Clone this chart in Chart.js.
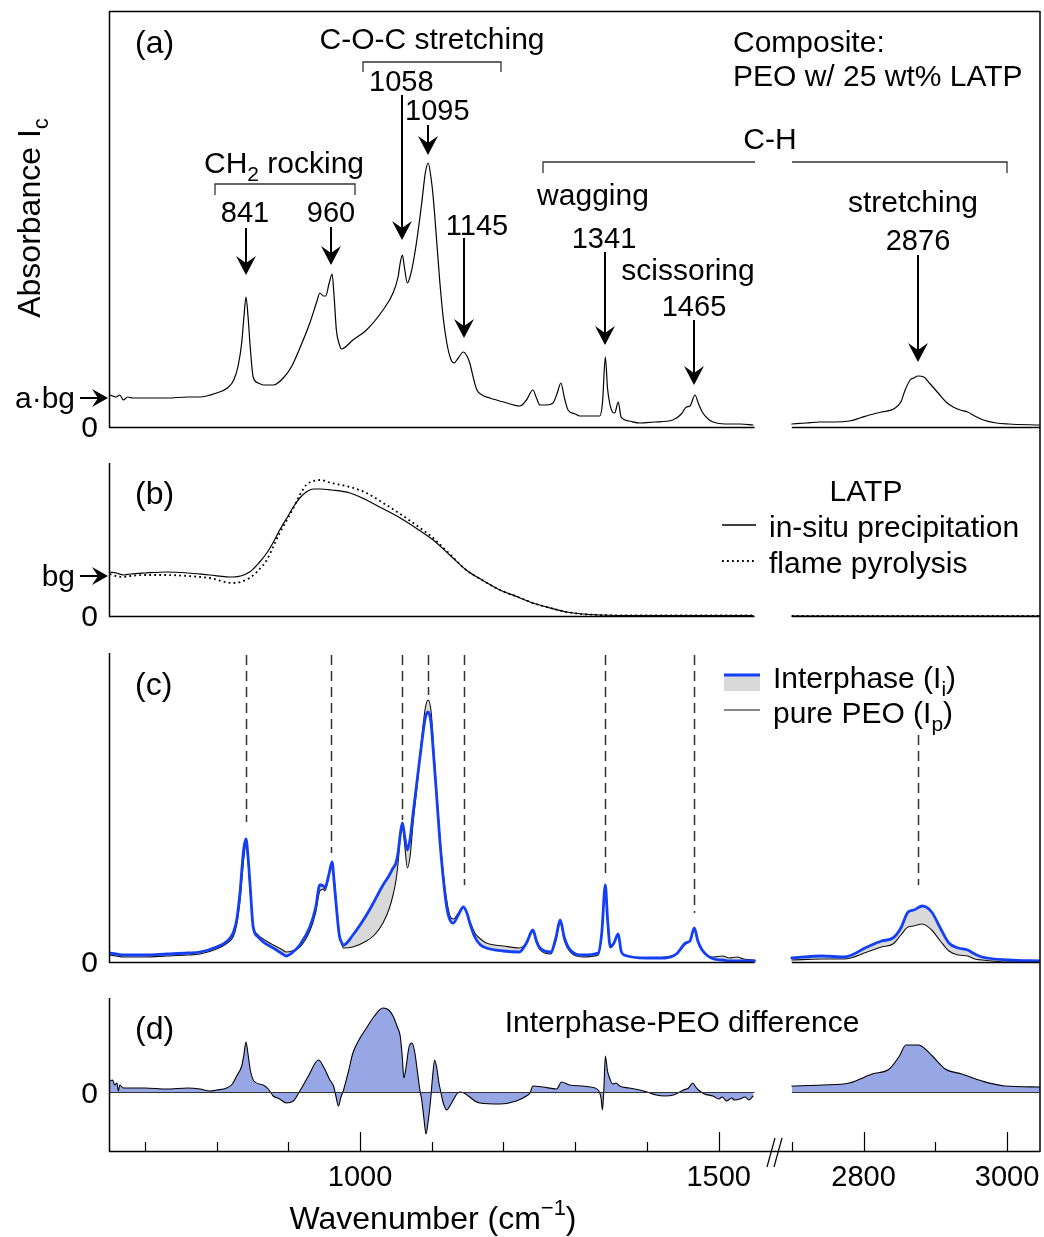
<!DOCTYPE html>
<html>
<head>
<meta charset="utf-8">
<script src="https://cdn.jsdelivr.net/npm/chart.js@4/dist/chart.umd.min.js"></script>
<style>
  body { margin: 0; background: #fff; width: 1044px; height: 1237px; overflow: hidden; position: relative; }
  canvas { position: absolute; left: 0; }
</style>
</head>
<body>
<canvas id="pa" width="1044" height="440" style="top:0"></canvas>
<canvas id="pb" width="1044" height="190" style="top:440px"></canvas>
<canvas id="pc" width="1044" height="345" style="top:630px"></canvas>
<canvas id="pd" width="1044" height="262" style="top:975px"></canvas>
<script>
// broken axis: 650-1550 then 2700-3050, the second part shifted left
const GAP = 1098;
const xv = w => (w > 2000 ? w - GAP : w);
const FONT = '"Liberation Sans", Arial, Helvetica, sans-serif';

// x axis ticks
const tickWaves = [700, 800, 900, 1000, 1100, 1200, 1300, 1400, 1500, 2700, 2800, 2900, 3000];
const tickLabels = ['', '', '', '1000', '', '', '', '', '1500', '', '2800', '', '3000'];
const peakWaves = [841, 960, 1058, 1095, 1145, 1341, 1465, 2876];

// (a) composite PEO w/ 25 wt% LATP  (null = axis break)
const aWave = [651, 660, 665, 670, 676, 683, 700, 731, 760, 777, 800, 815, 824, 830, 835, 838, 841, 844, 847, 851, 858, 865, 879, 893, 905, 915, 930, 940, 944, 949, 952, 957, 961, 964, 967, 971, 974, 990, 1009, 1032, 1046, 1053, 1056, 1059, 1062, 1066, 1070, 1074, 1080, 1086, 1091, 1095, 1099, 1102, 1106, 1111, 1116, 1121, 1126, 1131, 1137, 1144, 1149, 1153, 1158, 1163, 1170, 1181, 1200, 1223, 1232, 1241, 1246, 1251, 1260, 1269, 1275, 1280, 1285, 1290, 1300, 1306, 1320, 1334, 1338, 1342, 1345, 1348, 1352, 1355, 1360, 1364, 1375, 1390, 1410, 1436, 1448, 1455, 1460, 1467, 1472, 1478, 1487, 1497, 1515, 1530, 1548,
  null, 2700, 2720, 2739, 2760, 2780, 2795, 2808, 2825, 2842, 2852, 2858, 2865, 2870, 2876, 2884, 2893, 2904, 2915, 2925, 2935, 2945, 2955, 2967, 2985, 3002, 3046];
const aAbs = [33, 31, 33, 28, 31, 30, 30, 30, 31, 31, 35, 40, 48, 62, 85, 110, 131, 110, 80, 51, 45, 43, 43, 50, 62, 78, 105, 127, 135, 132, 132, 145, 154, 130, 98, 84, 79, 88, 98, 118, 135, 151, 165, 173, 160, 145, 152, 165, 192, 225, 255, 265, 250, 231, 195, 148, 110, 85, 70, 65, 70, 76, 72, 65, 50, 38, 33, 30, 26, 22, 28, 38, 30, 23, 23, 25, 35, 45, 30, 18, 14, 12, 12, 12, 25, 71, 40, 25, 16, 15, 26, 11, 7, 5, 6, 8, 14, 21, 22, 33, 24, 15, 8, 5, 4, 4, 3,
  null, 4, 5, 6, 6, 7, 10, 13, 16, 19, 26, 38, 48, 50, 52, 51, 44, 35, 26, 21, 18, 16, 12, 8, 5, 4, 3];

// (b) LATP background
const bWave = [651, 660, 670, 680, 700, 730, 760, 790, 823, 846, 860, 870, 880, 888, 898, 907, 916, 925, 935, 944, 960, 986, 1009, 1030, 1056, 1080, 1102, 1125, 1148, 1170, 1195, 1220, 1241, 1265, 1288, 1310, 1334, 1400, 1470, 1548,
  null, 2700, 2800, 2900, 3000, 3046];
const bInSitu = [45, 44, 42, 43, 44, 45, 44, 42, 40, 45, 55, 64, 76, 87, 99, 110, 119, 125, 128, 128, 127, 124, 117, 109, 99, 88, 77, 62, 47, 37, 27, 20, 14, 9, 5, 3, 2, 1.5, 1.5, 1.5,
  null, 1, 1, 1, 1, 1];
const bFlame = [43, 41, 40, 41, 42, 42, 41, 39, 34, 39, 48, 57, 72, 84, 97, 109, 122, 132, 136, 137, 134, 130, 124, 115, 103, 91, 79, 63, 47, 37, 27, 20, 14, 9, 5, 3, 2, 1.5, 1.5, 1.5,
  null, 1, 1, 1, 1, 1];

// (c) interphase vs pure PEO
const cWave = [651, 660, 670, 683, 700, 731, 760, 777, 800, 815, 823, 828, 833, 836, 838, 841, 844, 847, 851, 858, 865, 879, 890, 897, 905, 916, 930, 938, 944, 949, 951, 957, 961, 964, 967, 971, 974, 977, 990, 1009, 1020, 1032, 1041, 1046, 1050, 1053, 1056, 1059, 1062, 1066, 1070, 1074, 1080, 1086, 1091, 1095, 1099, 1102, 1106, 1111, 1116, 1121, 1126, 1130, 1137, 1144, 1149, 1153, 1160, 1168, 1176, 1200, 1222, 1232, 1241, 1246, 1251, 1266, 1273, 1279, 1285, 1293, 1310, 1332, 1337, 1342, 1345, 1349, 1354, 1360, 1364, 1368, 1399, 1425, 1441, 1454, 1460, 1466, 1471, 1477, 1493, 1505, 1515, 1525, 1535, 1550,
  null, 2700, 2742, 2773, 2805, 2825, 2841, 2852, 2862, 2870, 2882, 2895, 2907, 2919, 2932, 2945, 2955, 2965, 3002, 3048];
const cInter = [10, 9, 8, 8, 8, 9, 10, 11, 16, 22, 30, 43, 73, 100, 115, 124, 105, 75, 36, 26, 21, 15, 10, 7, 10, 18, 36, 55, 78, 77, 75, 90, 101, 80, 56, 28, 21, 18, 28, 48, 62, 78, 88, 95, 100, 110, 128, 140, 128, 113, 125, 150, 185, 220, 245, 251, 240, 213, 175, 125, 85, 55, 42, 40, 48, 56, 50, 40, 26, 18, 15, 12, 11, 20, 33, 22, 15, 11, 25, 43, 25, 13, 8, 10, 30, 78, 45, 16, 20, 29, 12, 8, 5, 5, 9, 20, 22, 35, 22, 13, 4, 3, 2, 2, 2, 2,
  null, 5, 7, 6, 16, 22, 25, 35, 51, 53, 57, 51, 35, 20, 15, 13, 9, 6, 3, 2];
const cPEO = [8, 7, 6, 6, 6, 7, 8, 9, 14, 20, 26, 38, 65, 90, 105, 118, 100, 70, 38, 28, 24, 18, 14, 11, 12, 16, 32, 50, 72, 74, 72, 88, 100, 85, 60, 30, 20, 15, 16, 22, 28, 40, 55, 68, 82, 100, 125, 137, 120, 95, 108, 140, 180, 225, 255, 263, 252, 222, 180, 130, 90, 62, 46, 44, 50, 56, 50, 42, 30, 24, 20, 17, 15, 20, 31, 20, 13, 9, 22, 40, 22, 11, 6, 8, 28, 76, 42, 18, 20, 27, 12, 8, 5, 6, 9, 19, 22, 33, 21, 12, 6, 7, 5, 6, 4, 3,
  null, 3, 4, 4, 11, 16, 19, 28, 36, 37, 39, 33, 22, 12, 8, 7, 4, 3, 1, 1];

// (d) interphase - PEO difference
const dWave = [651, 655, 658, 661, 663, 665, 670, 684, 700, 730, 760, 777, 791, 800, 814, 822, 828, 835, 838, 841, 844, 847, 852, 865, 872, 879, 888, 897, 907, 916, 928, 942, 950, 958, 963, 966, 970, 973, 977, 984, 990, 1000, 1009, 1020, 1032, 1040, 1046, 1052, 1056, 1059, 1061, 1064, 1068, 1072, 1076, 1079, 1083, 1086, 1089, 1092, 1095, 1098, 1101, 1104, 1107, 1110, 1112, 1116, 1121, 1126, 1130, 1135, 1139, 1145, 1151, 1160, 1167, 1195, 1218, 1232, 1237, 1241, 1255, 1274, 1281, 1292, 1310, 1321, 1332, 1336, 1338, 1340, 1342, 1345, 1348, 1352, 1357, 1362, 1375, 1390, 1400, 1413, 1425, 1437, 1451, 1458, 1464, 1468, 1472, 1480, 1492, 1500, 1505, 1511, 1518, 1522, 1530, 1537, 1542, 1548,
  null, 2700, 2743, 2780, 2812, 2836, 2850, 2859, 2877, 2886, 2896, 2914, 2937, 2965, 2997, 3046];
const dDiff = [12, 13, 8, 10, 2, 8, 5, 5, 5, 4, 5, 4, 2, 3, 5, 9, 17, 27, 38, 51, 38, 23, 12, 8, 4, -3, -6, -10, -8, 2, 17, 33, 25, 13, 7, -2, -13, -5, 3, 22, 40, 55, 65, 77, 85, 83, 77, 66, 57, 35, 15, 25, 45, 50, 42, 27, 5, -7, -25, -41, -28, -10, 15, 33, 25, 10, 3, -10, -17, -12, -7, -1, 1, 0, -3, -8, -10, -11, -8, -3, 0, 7, 6, 4, 11, 8, 7, 6, 3, -5, -17, 5, 37, 22, 15, 9, 10, 7, 5, 3, 1, -2, -3, -2, 3, 5, 10, 6, 3, -1, -3, -6, -4, -8, -5, -7, -6, -4, -7, -3,
  null, 7, 8, 10, 19, 24, 37, 48, 48, 44, 37, 24, 19, 12, 7, 6];

const pts = (ws, ys) => ws.map((w, i) => (w === null ? { x: 1575, y: null } : { x: xv(w), y: ys[i] }));

// ---------- drawing helpers ----------
function seg(ctx, x1, y1, x2, y2) {
  ctx.beginPath(); ctx.moveTo(x1, y1); ctx.lineTo(x2, y2); ctx.stroke();
}
// parts: [text, mode]  mode 1 = subscript, -1 = superscript
function rich(ctx, parts, x, y, align, size) {
  const fs = parts.map(p => (p[1] ? Math.round(size * 0.7) : size));
  let w = 0;
  parts.forEach((p, i) => { ctx.font = fs[i] + 'px ' + FONT; w += ctx.measureText(p[0]).width; });
  let cx = align === 'center' ? x - w / 2 : align === 'right' ? x - w : x;
  ctx.textAlign = 'left'; ctx.textBaseline = 'alphabetic'; ctx.fillStyle = '#000';
  const base = y + size * 0.36;
  parts.forEach((p, i) => {
    ctx.font = fs[i] + 'px ' + FONT;
    const dy = p[1] === 1 ? size * 0.26 : p[1] === -1 ? -size * 0.42 : 0;
    ctx.fillText(p[0], cx, base + dy);
    cx += ctx.measureText(p[0]).width;
  });
}
function txt(ctx, s, x, y, align, size) { rich(ctx, [[s]], x, y, align, size || 30); }
function arrowDown(ctx, x, top, tip) {
  ctx.lineWidth = 2; ctx.strokeStyle = '#000';
  seg(ctx, x, top, x, tip - 8);
  ctx.beginPath();
  ctx.moveTo(x, tip); ctx.lineTo(x - 10, tip - 19); ctx.lineTo(x, tip - 12); ctx.lineTo(x + 10, tip - 19);
  ctx.closePath(); ctx.fillStyle = '#000'; ctx.fill();
}
function arrowRight(ctx, x1, tip, y) {
  ctx.lineWidth = 2; ctx.strokeStyle = '#000';
  seg(ctx, x1, y, tip - 6, y);
  ctx.beginPath();
  ctx.moveTo(tip, y); ctx.lineTo(tip - 16, y - 9); ctx.lineTo(tip - 10, y); ctx.lineTo(tip - 16, y + 9);
  ctx.closePath(); ctx.fillStyle = '#000'; ctx.fill();
}
// spines and the broken zero line of one panel
function frame(chart, o) {
  const { ctx, chartArea: a, scales: { x, y } } = chart;
  ctx.save();
  ctx.strokeStyle = '#000'; ctx.lineWidth = 1.5;
  seg(ctx, a.left + 0.5, a.top, a.left + 0.5, a.bottom);
  if (o.top) seg(ctx, a.left, a.top + 0.5, a.right, a.top + 0.5);
  seg(ctx, a.right, o.rTop, a.right, o.rBot);
  const y0 = Math.round(y.getPixelForValue(0)) - 0.5;
  if (o.thinZero) { ctx.lineWidth = 1; ctx.strokeStyle = '#333'; }
  seg(ctx, a.left, y0, x.getPixelForValue(1550), y0);
  seg(ctx, x.getPixelForValue(xv(2700)), y0, a.right, y0);
  ctx.restore();
}

const baseOptions = (pad, ymin, ymax) => ({
  responsive: false, animation: false, events: [],
  layout: { padding: pad },
  plugins: { legend: { display: false }, tooltip: { enabled: false }, filler: { drawTime: 'beforeDatasetsDraw' } },
  elements: { point: { radius: 0 }, line: { cubicInterpolationMode: 'monotone', borderCapStyle: 'round' } },
  scales: {
    x: { type: 'linear', min: 650, max: 1948, display: false },
    y: { min: ymin, max: ymax, display: false }
  }
});

// ---------- (a) ----------
const arrowTops = [228, 227, 95, 125, 238, 252, 320, 255];
const arrowTips = [275, 265, 240, 155, 338, 345, 385, 362];

new Chart(document.getElementById('pa'), {
  type: 'line',
  data: { datasets: [{ data: pts(aWave, aAbs), borderColor: '#000', borderWidth: 1.2, fill: false }] },
  options: baseOptions({ left: 109, right: 4, top: 11, bottom: 12 }, 0, 417),
  plugins: [{
    id: 'decorA',
    afterDraw(chart) {
      const { ctx, scales: { x } } = chart;
      frame(chart, { top: true, rTop: 11, rBot: 440 });
      ctx.save();
      peakWaves.forEach((w, i) => arrowDown(ctx, Math.round(x.getPixelForValue(xv(w))), arrowTops[i], arrowTips[i]));
      // brackets
      ctx.strokeStyle = '#333'; ctx.lineWidth = 1.3;
      ctx.beginPath(); ctx.moveTo(215, 195); ctx.lineTo(215, 184); ctx.lineTo(355, 184); ctx.lineTo(355, 195); ctx.stroke();
      ctx.beginPath(); ctx.moveTo(363, 72); ctx.lineTo(363, 62); ctx.lineTo(501, 62); ctx.lineTo(501, 72); ctx.stroke();
      ctx.beginPath(); ctx.moveTo(543, 173); ctx.lineTo(543, 162); ctx.lineTo(755, 162); ctx.stroke();
      ctx.beginPath(); ctx.moveTo(792, 162); ctx.lineTo(1007, 162); ctx.lineTo(1007, 173); ctx.stroke();
      // texts
      txt(ctx, '(a)', 135, 41, 'left', 32);
      txt(ctx, 'C-O-C stretching', 432, 38, 'center');
      txt(ctx, 'Composite:', 733, 41, 'left');
      txt(ctx, 'PEO w/ 25 wt% LATP', 733, 75, 'left');
      txt(ctx, '1058', 369, 81, 'left', 29);
      txt(ctx, '1095', 405, 110, 'left', 29);
      rich(ctx, [['CH'], ['2', 1], [' rocking']], 204, 162, 'left', 30);
      txt(ctx, '841', 245, 212, 'center', 29);
      txt(ctx, '960', 331, 212, 'center', 29);
      txt(ctx, '1145', 477, 225, 'center', 29);
      txt(ctx, 'C-H', 770, 138, 'center');
      txt(ctx, 'wagging', 593, 194, 'center');
      txt(ctx, '1341', 604, 238, 'center', 29);
      txt(ctx, 'scissoring', 688, 269, 'center');
      txt(ctx, '1465', 694, 306, 'center', 29);
      txt(ctx, 'stretching', 913, 201, 'center');
      txt(ctx, '2876', 918, 240, 'center', 29);
      // y side
      txt(ctx, 'a\u00b7bg', 75, 397, 'right');
      arrowRight(ctx, 80, 108, 398);
      txt(ctx, '0', 98, 426, 'right');
      ctx.translate(28, 218); ctx.rotate(-Math.PI / 2);
      rich(ctx, [['Absorbance I'], ['c', 1]], 0, 0, 'center', 32);
      ctx.restore();
    }
  }]
});

// ---------- (b) ----------
new Chart(document.getElementById('pb'), {
  type: 'line',
  data: { datasets: [
    { data: pts(bWave, bFlame), borderColor: '#000', borderWidth: 1.8, borderDash: [1.8, 3.2], borderCapStyle: 'butt', fill: false },
    { data: pts(bWave, bInSitu), borderColor: '#000', borderWidth: 1.2, fill: false }
  ] },
  options: baseOptions({ left: 109, right: 4, top: 23, bottom: 13 }, 0, 154),
  plugins: [{
    id: 'decorB',
    afterDraw(chart) {
      const { ctx } = chart;
      const T = 440;
      frame(chart, { rTop: 0, rBot: 190 });
      ctx.save();
      txt(ctx, '(b)', 135, 492 - T, 'left', 32);
      txt(ctx, 'bg', 75, 575 - T, 'right');
      arrowRight(ctx, 80, 108, 576 - T);
      txt(ctx, '0', 98, 615 - T, 'right');
      txt(ctx, 'LATP', 866, 490 - T, 'center');
      ctx.strokeStyle = '#000'; ctx.lineWidth = 1.3;
      seg(ctx, 722, 525 - T, 756, 525 - T);
      ctx.setLineDash([1.8, 3.2]); ctx.lineWidth = 1.8;
      seg(ctx, 722, 561 - T, 756, 561 - T);
      ctx.setLineDash([]);
      txt(ctx, 'in-situ precipitation', 769, 526 - T, 'left');
      txt(ctx, 'flame pyrolysis', 769, 562 - T, 'left');
      ctx.restore();
    }
  }]
});

// ---------- (c) ----------
const dashTops = [308, 308, 308, 308, 308, 308, 308, 228];
const dashBots = [141, 110, 143, 268, 78, 90, 50, 78];

new Chart(document.getElementById('pc'), {
  type: 'line',
  data: { datasets: [
    { data: pts(cWave, cInter), borderColor: '#1440f5', borderWidth: 2.8, fill: '+1', backgroundColor: '#d9d9d9' },
    { data: pts(cWave, cPEO), borderColor: '#111', borderWidth: 1.1, fill: false }
  ] },
  options: baseOptions({ left: 109, right: 4, top: 23, bottom: 12 }, 0, 310),
  plugins: [{
    id: 'decorC',
    beforeDatasetsDraw(chart) {
      const { ctx, scales: { x, y } } = chart;
      ctx.save();
      ctx.strokeStyle = '#333'; ctx.lineWidth = 1.5; ctx.setLineDash([10, 6]);
      peakWaves.forEach((w, i) => {
        const px = Math.round(x.getPixelForValue(xv(w))) + 0.5;
        seg(ctx, px, y.getPixelForValue(dashTops[i]), px, y.getPixelForValue(dashBots[i]));
      });
      ctx.restore();
    },
    afterDraw(chart) {
      const { ctx } = chart;
      const T = 630;
      frame(chart, { rTop: 0, rBot: 345 });
      ctx.save();
      txt(ctx, '(c)', 135, 683 - T, 'left', 32);
      txt(ctx, '0', 98, 961 - T, 'right');
      ctx.fillStyle = '#d9d9d9'; ctx.fillRect(724, 675 - T, 36, 16);
      ctx.strokeStyle = '#1440f5'; ctx.lineWidth = 3;
      seg(ctx, 724, 675 - T, 760, 675 - T);
      ctx.strokeStyle = '#111'; ctx.lineWidth = 1.2;
      seg(ctx, 724, 710 - T, 760, 710 - T);
      rich(ctx, [['Interphase (I'], ['i', 1], [')']], 773, 677 - T, 'left', 30);
      rich(ctx, [['pure PEO (I'], ['p', 1], [')']], 773, 712 - T, 'left', 30);
      ctx.restore();
    }
  }]
});

// ---------- (d) ----------
const optD = baseOptions({ left: 109, right: 4, top: 23, bottom: 45 }, -59, 95);
optD.scales.x = {
  type: 'linear', min: 650, max: 1948, position: 'bottom',
  afterBuildTicks: s => { s.ticks = tickWaves.map(w => ({ value: xv(w) })); },
  afterFit: s => { s.height = 40; s.paddingLeft = 0; s.paddingRight = 0; },
  grid: { display: false, drawTicks: false },
  border: { display: false },
  ticks: {
    autoSkip: false, maxRotation: 0, minRotation: 0, padding: 9, color: '#000',
    font: { family: FONT, size: 29 },
    callback: v => { const i = tickWaves.findIndex(w => xv(w) === v); return i < 0 ? '' : tickLabels[i]; }
  }
};

new Chart(document.getElementById('pd'), {
  type: 'line',
  data: { datasets: [
    { data: pts(dWave, dDiff), borderColor: '#000', borderWidth: 1.1, fill: 'origin', backgroundColor: '#97a7e6' }
  ] },
  options: optD,
  plugins: [{
    id: 'decorD',
    afterDraw(chart) {
      const { ctx, chartArea: a, scales: { x } } = chart;
      const T = 975;
      frame(chart, { rTop: 0, rBot: a.bottom, thinZero: true });
      ctx.save();
      ctx.strokeStyle = '#000'; ctx.lineWidth = 1.5;
      seg(ctx, a.left, a.bottom - 0.5, a.right, a.bottom - 0.5);
      ctx.lineWidth = 1.2;
      tickWaves.forEach((w, i) => {
        const px = Math.round(x.getPixelForValue(xv(w))) + 0.5;
        seg(ctx, px, a.bottom, px, a.bottom - (tickLabels[i] ? 20 : 10));
      });
      // axis break marks
      ctx.lineWidth = 1.2;
      seg(ctx, 767, 1167 - T, 775, 1138 - T);
      seg(ctx, 774, 1167 - T, 782, 1138 - T);
      txt(ctx, '(d)', 135, 1027 - T, 'left', 32);
      txt(ctx, '0', 98, 1092 - T, 'right');
      txt(ctx, 'Interphase-PEO difference', 682, 1021 - T, 'center');
      rich(ctx, [['Wavenumber (cm'], ['\u22121', -1], [')']], 433, 1217 - T, 'center', 32);
      ctx.restore();
    }
  }]
});
</script>
</body>
</html>
